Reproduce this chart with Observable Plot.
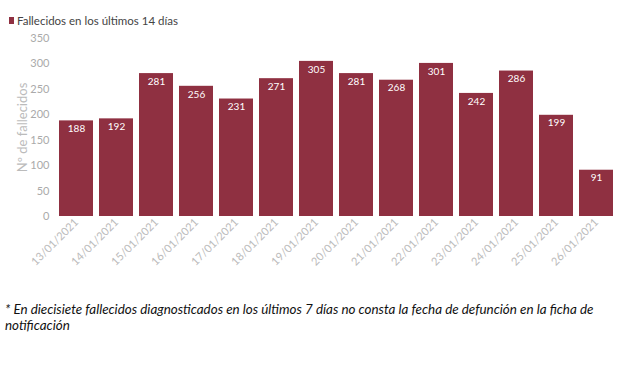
<!DOCTYPE html>
<html><head><meta charset="utf-8">
<script src="https://cdn.jsdelivr.net/npm/d3@7"></script>
<script src="https://cdn.jsdelivr.net/npm/@observablehq/plot@0.6"></script>
<style>
body{margin:0;background:#fff;width:620px;height:368px;position:relative;overflow:hidden;font-family:Lato,"Open Sans",sans-serif;}
#legend{position:absolute;left:9px;top:14px;font-size:11.5px;color:#444;white-space:nowrap;display:flex;align-items:center;}
#legend span.sw{display:inline-block;width:5px;height:7px;background:#8f3041;margin-right:3px;}
#chart{position:absolute;left:0;top:30px;}
#note{position:absolute;left:5px;top:301px;width:610px;font-size:13.4px;font-style:italic;color:#111;line-height:16px;}
</style></head>
<body>
<div id="legend"><span class="sw"></span><span>Fallecidos en los últimos 14 días</span></div>
<div id="chart"></div>
<div id="note">* En diecisiete fallecidos diagnosticados en los últimos 7 días no consta la fecha de defunción en la ficha de notificación</div>
<script>
const fechas = ["13/01/2021","14/01/2021","15/01/2021","16/01/2021","17/01/2021","18/01/2021","19/01/2021","20/01/2021","21/01/2021","22/01/2021","23/01/2021","24/01/2021","25/01/2021","26/01/2021"];
const fallecidos = [188,192,281,256,231,271,305,281,268,301,242,286,199,91];
const yTicks = [0,50,100,150,200,250,300,350];
const data = fechas.map((f,i)=>({fecha:f, valor:fallecidos[i]}));
const color = "#8f3041";
const chart = Plot.plot({
  width: 620, height: 266,
  marginTop: 8, marginBottom: 80, marginLeft: 53, marginRight: 1,
  style: {fontFamily: "Lato, sans-serif", background: "transparent", overflow: "visible"},
  x: {domain: fechas, padding: 0.15, label: null, tickSize: 0, tickRotate: -45, tickPadding: 4},
  y: {domain: [0,350], ticks: yTicks, label: null, tickSize: 0, tickPadding: 6},
  marks: [
    Plot.barY(data, {x:"fecha", y:"valor", fill: color}),
    Plot.text(data, {x:"fecha", y:"valor", text: d=>String(d.valor), fill:"white", fontSize:10, dy:8, lineAnchor:"middle"}),
    Plot.axisY({ticks: yTicks, tickSize:0, tickPadding:4, fontSize:11, color:"#aaa", label:null}),
    Plot.axisX({tickSize:0, tickRotate:-45, tickPadding:4, fontSize:11, color:"#bbb", label:null}),
    Plot.text(["Nº de fallecidos"], {frameAnchor:"left", dx:-31, rotate:-90, fontSize:13, fill:"#bbb", textAnchor:"middle"})
  ]
});
document.getElementById("chart").appendChild(chart);
</script>
</body></html>
